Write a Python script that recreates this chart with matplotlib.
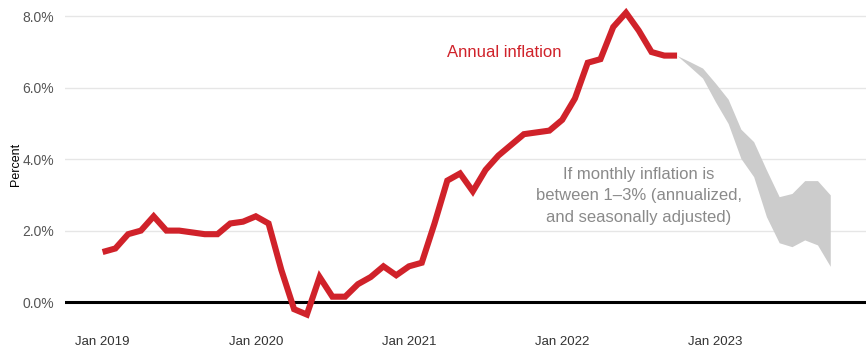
import matplotlib as mpl
mpl.use('Agg')
import matplotlib.pyplot as plt
import numpy as np

plt.rcParams['font.family'] = ['Liberation Sans', 'DejaVu Sans']

# Annual inflation, monthly, Jan 2019 - Oct 2022
inflation = [1.4, 1.5, 1.9, 2.0, 2.4, 2.0, 2.0, 1.95, 1.9, 1.9, 2.2, 2.25,
             2.4, 2.2, 0.9, -0.2, -0.35, 0.7, 0.15, 0.15, 0.5, 0.7, 1.0, 0.75,
             1.0, 1.1, 2.2, 3.4, 3.6, 3.1, 3.7, 4.1, 4.4, 4.7, 4.75, 4.8,
             5.1, 5.7, 6.7, 6.8, 7.7, 8.1, 7.6, 7.0, 6.9, 6.9]

# Scenario band, Oct 2022 - Oct 2023
band_high = [6.9, 6.73, 6.55, 6.13, 5.68, 4.84, 4.49, 3.7, 2.95, 3.04, 3.4, 3.4, 3.0]
band_low = [6.9, 6.59, 6.27, 5.61, 5.0, 4.02, 3.51, 2.39, 1.66, 1.55, 1.74, 1.6, 1.0]

tick_labels = ['Jan 2019', 'Jan 2020', 'Jan 2021', 'Jan 2022', 'Jan 2023']
yticks = [0, 2, 4, 6, 8]

months = np.arange(len(inflation))
band_months = np.arange(len(inflation) - 1, len(inflation) - 1 + len(band_high))

fig = plt.figure(figsize=(8.66, 3.48), dpi=100)
ax = fig.add_axes([0.075, 0.052, 0.925, 0.934])

ax.fill_between(band_months, band_low, band_high, color='#cccccc', lw=0, zorder=2)
ax.plot(months, inflation, color='#d0222a', lw=4.4, solid_capstyle='butt',
        solid_joinstyle='miter', zorder=4)
ax.axhline(0, color='black', lw=2.2, zorder=3)

ax.set_xlim(-2.95, 59.8)
ax.set_ylim(-0.78, 8.32)

for y in yticks[1:]:
    ax.axhline(y, color='#e6e6e6', lw=1, zorder=1)

ax.set_yticks(yticks)
ax.set_yticklabels(['%.1f%%' % v for v in yticks])
ax.set_xticks([0, 12, 24, 36, 48])
ax.set_xticklabels(tick_labels)
ax.tick_params(length=0, colors='#555555')
ax.tick_params(axis='x', colors='#333333', labelsize=9.5, pad=4.5)
ax.tick_params(axis='y', labelsize=10, pad=8)
for s in ax.spines.values():
    s.set_visible(False)

ax.set_ylabel('Percent', fontsize=9)
ax.yaxis.set_label_coords(-0.053, 0.51)

ax.text(31.5, 7.0, 'Annual inflation', color='#d0222a', fontsize=12,
        ha='center', va='center')
ax.text(42.0, 2.97, 'If monthly inflation is\nbetween 1\u20133% (annualized,\nand seasonally adjusted)',
        color='#8a8a8a', fontsize=12, ha='center', va='center', linespacing=1.55)

fig.savefig('out.png', dpi=100)
